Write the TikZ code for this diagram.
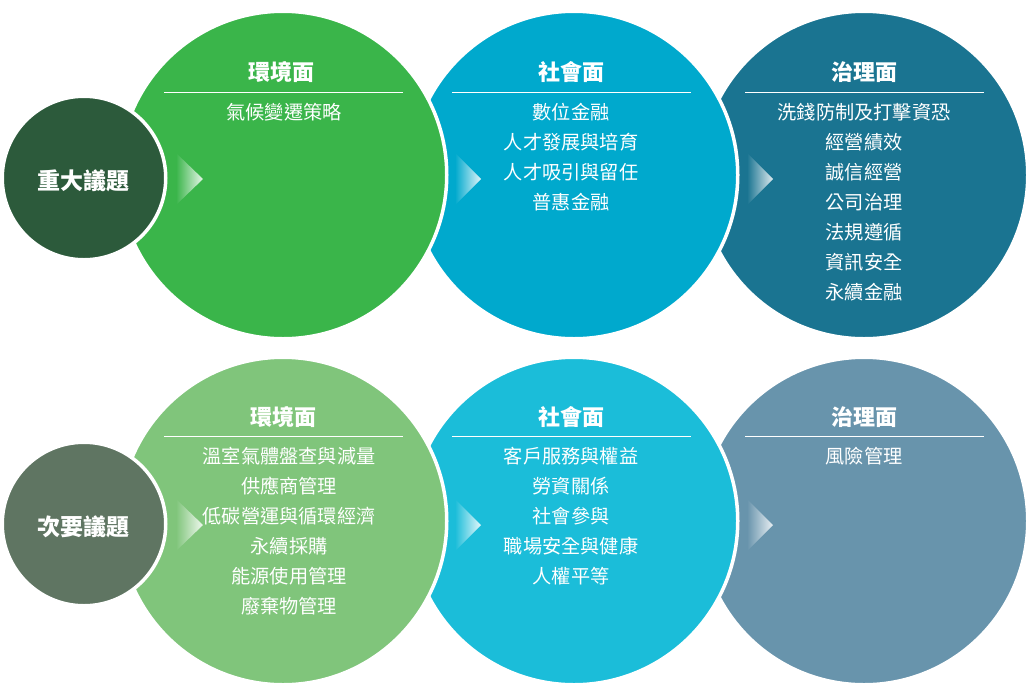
\documentclass[tikz,border=0pt]{standalone}
\usepackage{fontspec}
\newfontfamily\cjk{Noto Sans CJK TC}
\definecolor{cSmallA}{HTML}{2C5A3B}
\definecolor{cEnvA}{HTML}{3AB54A}
\definecolor{cSocA}{HTML}{00A9CD}
\definecolor{cGovA}{HTML}{1A7491}
\definecolor{cSmallB}{HTML}{5F7562}
\definecolor{cEnvB}{HTML}{80C57B}
\definecolor{cSocB}{HTML}{1BBDD9}
\definecolor{cGovB}{HTML}{6894AC}
\begin{document}
\begin{tikzpicture}[x=1pt,y=-1pt,
  bigdisc/.style={circle, inner sep=0pt, outer sep=0pt, minimum size=327.5pt, draw=white, line width=3.5pt, fill=#1},
  smalldisc/.style={circle, inner sep=0pt, outer sep=0pt, minimum size=163.5pt, draw=white, line width=3.5pt, fill=#1},
  big/.style={text=white, inner sep=0pt, font=\cjk\bfseries\fontsize{23}{27}\selectfont},
  ttl/.style={text=white, inner sep=0pt, font=\cjk\bfseries\fontsize{22}{26}\selectfont},
  itm/.style={text=white, inner sep=0pt, font=\cjk\fontsize{19.2}{23}\selectfont},
  rule/.style={draw=white, line width=1pt}
]
\useasboundingbox (0,0) rectangle (1033,697);
\fill[white] (0,0) rectangle (1033,697);

% ---------- top row ----------
\node[bigdisc=cGovA] (govA) at (864,175) {};
\node[bigdisc=cSocA] (socA) at (574,175) {};
\node[bigdisc=cEnvA] (envA) at (283,175) {};
\node[smalldisc=cSmallA] (majorA) at (84,178) {};
\node[big] (majorAtxt) at (83,181) {重大議題};

% chevrons top
\shade[left color=cEnvA, right color=white!88!cEnvA] (176,153) -- (203,179) -- (176,205) -- cycle;
\shade[left color=cSocA, right color=white!88!cSocA] (455,153) -- (481,179) -- (455,205) -- cycle;
\shade[left color=cGovA, right color=white!85!cGovA] (747,153) -- (773,179) -- (747,205) -- cycle;

% titles and rules top
\node[ttl] (tEnvA) at (281,72) {環境面};
\node[ttl] (tSocA) at (571,72) {社會面};
\node[ttl] (tGovA) at (864,72) {治理面};
\draw[rule] (164,92) -- (403,92);
\draw[rule] (452,92) -- (691,92);
\draw[rule] (745,92) -- (984,92);

\node[itm] (eA1) at (284,112) {氣候變遷策略};

\foreach \t [count=\i] in {數位金融,人才發展與培育,人才吸引與留任,普惠金融}
  \node[itm] (sA\i) at (571,{112+30*(\i-1)}) {\t};

\foreach \t [count=\i] in {洗錢防制及打擊資恐,經營績效,誠信經營,公司治理,法規遵循,資訊安全,永續金融}
  \node[itm] (gA\i) at (864,{112+30*(\i-1)}) {\t};

% ---------- bottom row ----------
\node[bigdisc=cGovB] (govB) at (864,521) {};
\node[bigdisc=cSocB] (socB) at (574,521) {};
\node[bigdisc=cEnvB] (envB) at (283,521) {};
\node[smalldisc=cSmallB] (minorB) at (84,524) {};
\node[big] (minorBtxt) at (83,527) {次要議題};

\shade[left color=cEnvB, right color=white!88!cEnvB] (176,499) -- (203,525) -- (176,551) -- cycle;
\shade[left color=cSocB, right color=white!88!cSocB] (455,499) -- (481,525) -- (455,551) -- cycle;
\shade[left color=cGovB, right color=white!85!cGovB] (747,499) -- (773,525) -- (747,551) -- cycle;

\node[ttl] (tEnvB) at (283,417) {環境面};
\node[ttl] (tSocB) at (571,417) {社會面};
\node[ttl] (tGovB) at (864,417) {治理面};
\draw[rule] (164,436) -- (403,436);
\draw[rule] (452,436) -- (691,436);
\draw[rule] (745,436) -- (984,436);

\foreach \t [count=\i] in {溫室氣體盤查與減量,供應商管理,低碳營運與循環經濟,永續採購,能源使用管理,廢棄物管理}
  \node[itm] (eB\i) at (289,{456+30*(\i-1)}) {\t};

\foreach \t [count=\i] in {客戶服務與權益,勞資關係,社會參與,職場安全與健康,人權平等}
  \node[itm] (sB\i) at (571,{456+30*(\i-1)}) {\t};

\node[itm] (gB1) at (864,456) {風險管理};
\end{tikzpicture}
\end{document}
